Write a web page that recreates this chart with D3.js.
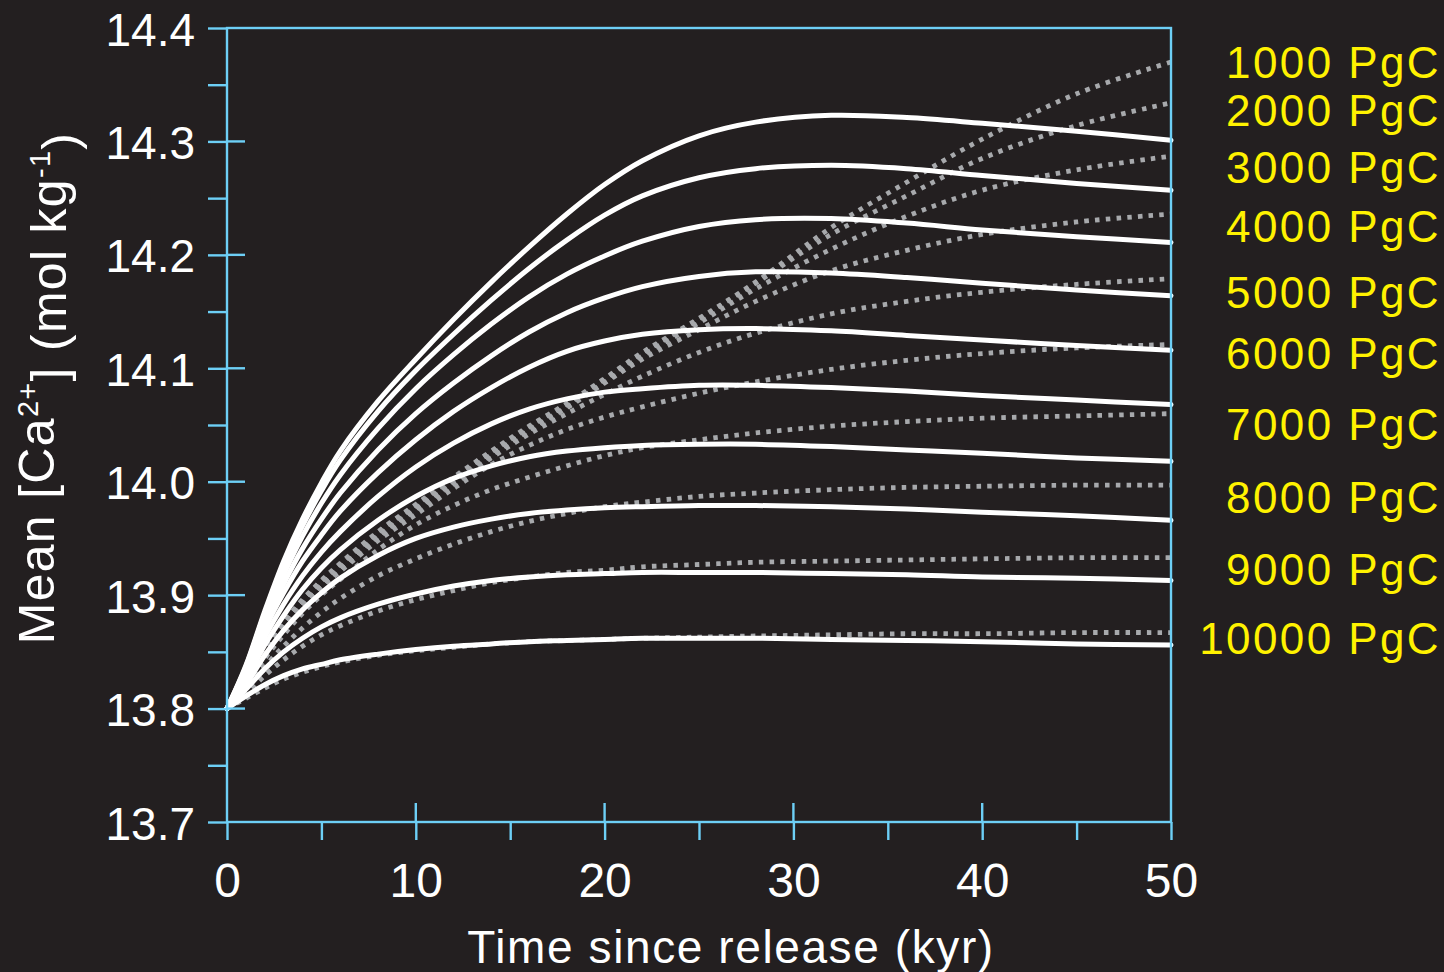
<!DOCTYPE html>
<html>
<head>
<meta charset="utf-8">
<script src="https://cdn.jsdelivr.net/npm/d3@7"></script>
<style>
  html, body { margin: 0; padding: 0; background: #231f20; }
  svg { display: block; }
  text { font-family: "Liberation Sans", Arial, sans-serif; }
</style>
</head>
<body>
<svg id="chart" width="1444" height="972"></svg>
<script>
// Sample times (kyr since release)
const times = [0, 1, 2, 3, 4, 5, 6, 8, 10, 12, 14, 16, 18, 20, 22, 25, 28, 32, 36, 40, 45, 50];

// Solid curves: mean [Ca2+] (mol/kg), one per release
const solid1000  = [13.800, 13.838, 13.886, 13.930, 13.967, 13.999, 14.027, 14.071, 14.108, 14.143, 14.176, 14.207, 14.236, 14.262, 14.283, 14.305, 14.317, 14.323, 14.321, 14.316, 14.309, 14.301];
const solid2000  = [13.800, 13.837, 13.884, 13.925, 13.961, 13.992, 14.019, 14.062, 14.098, 14.130, 14.160, 14.188, 14.213, 14.235, 14.252, 14.268, 14.276, 14.279, 14.276, 14.270, 14.263, 14.257];
const solid3000  = [13.800, 13.836, 13.880, 13.918, 13.952, 13.981, 14.006, 14.047, 14.082, 14.112, 14.139, 14.163, 14.183, 14.199, 14.212, 14.225, 14.231, 14.232, 14.228, 14.222, 14.216, 14.211];
const solid4000  = [13.800, 13.834, 13.875, 13.910, 13.941, 13.967, 13.990, 14.028, 14.060, 14.087, 14.111, 14.132, 14.149, 14.162, 14.172, 14.181, 14.185, 14.184, 14.180, 14.175, 14.169, 14.164];
const solid5000  = [13.800, 13.832, 13.870, 13.902, 13.930, 13.953, 13.974, 14.008, 14.037, 14.062, 14.083, 14.101, 14.115, 14.124, 14.130, 14.134, 14.135, 14.133, 14.129, 14.125, 14.120, 14.116];
const solid6000  = [13.800, 13.829, 13.863, 13.892, 13.917, 13.938, 13.956, 13.987, 14.013, 14.034, 14.051, 14.064, 14.073, 14.079, 14.082, 14.085, 14.085, 14.083, 14.080, 14.076, 14.072, 14.068];
const solid7000  = [13.800, 13.825, 13.856, 13.882, 13.905, 13.924, 13.940, 13.966, 13.987, 14.003, 14.014, 14.022, 14.027, 14.030, 14.032, 14.033, 14.033, 14.031, 14.028, 14.025, 14.021, 14.018];
const solid8000  = [13.800, 13.821, 13.847, 13.869, 13.887, 13.902, 13.915, 13.935, 13.950, 13.960, 13.967, 13.972, 13.975, 13.977, 13.978, 13.979, 13.979, 13.978, 13.976, 13.973, 13.970, 13.966];
const solid9000  = [13.800, 13.817, 13.835, 13.850, 13.862, 13.872, 13.880, 13.892, 13.901, 13.908, 13.913, 13.916, 13.918, 13.919, 13.920, 13.920, 13.920, 13.919, 13.918, 13.916, 13.915, 13.913];
const solid10000 = [13.800, 13.811, 13.821, 13.829, 13.835, 13.839, 13.843, 13.848, 13.852, 13.855, 13.857, 13.859, 13.860, 13.861, 13.862, 13.862, 13.862, 13.861, 13.860, 13.859, 13.857, 13.856];

// Dotted curves: companion runs, one per release
const dotted1000  = [13.800, 13.823, 13.853, 13.876, 13.896, 13.913, 13.928, 13.956, 13.980, 14.004, 14.027, 14.049, 14.069, 14.091, 14.114, 14.144, 14.176, 14.224, 14.264, 14.302, 14.342, 14.370];
const dotted2000  = [13.800, 13.822, 13.852, 13.875, 13.895, 13.912, 13.927, 13.955, 13.979, 14.003, 14.026, 14.048, 14.068, 14.090, 14.113, 14.143, 14.175, 14.218, 14.252, 14.285, 14.314, 14.334];
const dotted3000  = [13.800, 13.821, 13.850, 13.873, 13.893, 13.910, 13.925, 13.953, 13.977, 14.001, 14.024, 14.046, 14.066, 14.088, 14.111, 14.140, 14.170, 14.205, 14.234, 14.257, 14.275, 14.287];
const dotted4000  = [13.800, 13.820, 13.849, 13.872, 13.892, 13.909, 13.924, 13.952, 13.976, 14.000, 14.023, 14.045, 14.065, 14.087, 14.108, 14.134, 14.159, 14.186, 14.204, 14.218, 14.229, 14.236];
const dotted5000  = [13.800, 13.820, 13.848, 13.871, 13.891, 13.908, 13.923, 13.951, 13.975, 13.998, 14.021, 14.042, 14.060, 14.077, 14.093, 14.114, 14.131, 14.148, 14.159, 14.167, 14.174, 14.179];
const dotted6000  = [13.800, 13.819, 13.847, 13.870, 13.890, 13.907, 13.921, 13.948, 13.971, 13.994, 14.015, 14.032, 14.046, 14.057, 14.066, 14.078, 14.088, 14.099, 14.107, 14.113, 14.118, 14.121];
const dotted7000  = [13.800, 13.818, 13.844, 13.865, 13.884, 13.900, 13.914, 13.940, 13.962, 13.979, 13.993, 14.004, 14.014, 14.023, 14.030, 14.037, 14.043, 14.049, 14.053, 14.056, 14.058, 14.060];
const dotted8000  = [13.800, 13.816, 13.837, 13.855, 13.871, 13.885, 13.897, 13.917, 13.932, 13.945, 13.956, 13.965, 13.972, 13.978, 13.982, 13.987, 13.990, 13.993, 13.995, 13.996, 13.997, 13.997];
const dotted9000  = [13.800, 13.813, 13.829, 13.843, 13.855, 13.865, 13.873, 13.886, 13.896, 13.904, 13.911, 13.916, 13.920, 13.922, 13.925, 13.927, 13.929, 13.930, 13.931, 13.932, 13.933, 13.933];
const dotted10000 = [13.800, 13.809, 13.818, 13.826, 13.832, 13.837, 13.841, 13.847, 13.851, 13.854, 13.857, 13.859, 13.860, 13.861, 13.862, 13.863, 13.864, 13.865, 13.866, 13.866, 13.867, 13.867];

// Release labels and the [Ca2+] level each one sits at on the right margin
const releaseLabels = ["1000 PgC", "2000 PgC", "3000 PgC", "4000 PgC", "5000 PgC",
                       "6000 PgC", "7000 PgC", "8000 PgC", "9000 PgC", "10000 PgC"];
const labelLevels = [14.370, 14.328, 14.277, 14.225, 14.167, 14.113, 14.051, 13.986, 13.923, 13.862];

// Axis ticks
const yMajorTicks = [13.7, 13.8, 13.9, 14.0, 14.1, 14.2, 14.3, 14.4];
const yMinorTicks = [13.75, 13.85, 13.95, 14.05, 14.15, 14.25, 14.35];
const xMajorTicks = [0, 10, 20, 30, 40, 50];
const xMinorTicks = [5, 15, 25, 35, 45];

const solidSeries = [solid1000, solid2000, solid3000, solid4000, solid5000,
                     solid6000, solid7000, solid8000, solid9000, solid10000];
const dottedSeries = [dotted1000, dotted2000, dotted3000, dotted4000, dotted5000,
                      dotted6000, dotted7000, dotted8000, dotted9000, dotted10000];

const axisColor = "#6dcff6";
const bg = "#231f20";

const svg = d3.select("#chart");
svg.append("rect").attr("width", 1444).attr("height", 972).attr("fill", bg);

const plot = { left: 227, right: 1171, top: 28, bottom: 822 };
const x = d3.scaleLinear().domain([0, 50]).range([plot.left, plot.right]);
const y = d3.scaleLinear().domain([13.7, 14.4]).range([plot.bottom, plot.top]);

const line = d3.line()
  .x((d, i) => x(times[i]))
  .y(d => y(d))
  .curve(d3.curveCatmullRom.alpha(0.5));

// Dotted runs underneath
const dots = svg.append("g");
dottedSeries.forEach(s => {
  dots.append("path")
    .attr("d", line(s))
    .attr("fill", "none")
    .attr("stroke", "#a7a9ac")
    .attr("stroke-width", 4.8)
    .attr("stroke-dasharray", "4.5 6.2");
});

// Solid runs on top
const solids = svg.append("g");
solidSeries.forEach(s => {
  solids.append("path")
    .attr("d", line(s))
    .attr("fill", "none")
    .attr("stroke", "#ffffff")
    .attr("stroke-width", 5)
    .attr("stroke-linecap", "round");
});

// Frame
svg.append("rect")
  .attr("x", plot.left).attr("y", plot.top)
  .attr("width", plot.right - plot.left).attr("height", plot.bottom - plot.top)
  .attr("fill", "none").attr("stroke", axisColor).attr("stroke-width", 2.4);

function styleAxis(g, fontSize) {
  g.select(".domain").remove();
  g.selectAll(".tick line").attr("stroke", axisColor).attr("stroke-width", 2.4);
  g.selectAll(".tick text")
    .attr("fill", "#ffffff")
    .style("font-size", fontSize + "px")
    .style("font-family", "'Liberation Sans', Arial, sans-serif");
}

// Y axis: major ticks with labels, minor ticks outside only
const yAxisG = svg.append("g").attr("transform", `translate(${plot.left},0)`)
  .call(d3.axisLeft(y).tickValues(yMajorTicks).tickSize(19).tickPadding(13).tickFormat(d3.format(".1f")));
styleAxis(yAxisG, 46);
yAxisG.selectAll(".tick text").attr("dy", "0.37em");
const yMinorG = svg.append("g").attr("transform", `translate(${plot.left},0)`)
  .call(d3.axisLeft(y).tickValues(yMinorTicks).tickSize(19).tickFormat(""));
styleAxis(yMinorG, 46);
svg.append("g").selectAll("line")
  .data(yMajorTicks.slice(1, -1)).join("line")
  .attr("x1", plot.left).attr("x2", plot.left + 18)
  .attr("y1", d => y(d)).attr("y2", d => y(d))
  .attr("stroke", axisColor).attr("stroke-width", 2.4);

// X axis
const xAxisG = svg.append("g").attr("transform", `translate(0,${plot.bottom})`)
  .call(d3.axisBottom(x).tickValues(xMajorTicks).tickSize(18).tickPadding(23).tickFormat(d3.format("d")));
styleAxis(xAxisG, 48);
const xMinorG = svg.append("g").attr("transform", `translate(0,${plot.bottom})`)
  .call(d3.axisBottom(x).tickValues(xMinorTicks).tickSize(18).tickFormat(""));
styleAxis(xMinorG, 48);
svg.append("g").selectAll("line")
  .data(xMajorTicks.slice(1, -1)).join("line")
  .attr("x1", d => x(d)).attr("x2", d => x(d))
  .attr("y1", plot.bottom - 19).attr("y2", plot.bottom)
  .attr("stroke", axisColor).attr("stroke-width", 2.4);

// Release labels
svg.append("g").selectAll("text")
  .data(releaseLabels).join("text")
  .attr("x", 1441)
  .attr("y", (d, i) => y(labelLevels[i]))
  .attr("dy", "0.36em")
  .attr("text-anchor", "end")
  .attr("fill", "#fff200")
  .style("font-size", "44px")
  .style("letter-spacing", "2.4px")
  .text(d => d);

// Axis titles
svg.append("text")
  .attr("x", 731).attr("y", 963)
  .attr("text-anchor", "middle")
  .attr("fill", "#ffffff")
  .style("font-size", "46px")
  .style("letter-spacing", "1.6px")
  .text("Time since release (kyr)");

const yTitle = svg.append("text")
  .attr("transform", "translate(54,388) rotate(-90)")
  .attr("text-anchor", "middle")
  .attr("fill", "#ffffff")
  .style("font-size", "50px")
  .style("letter-spacing", "1.3px");
yTitle.append("tspan").text("Mean [Ca");
yTitle.append("tspan").attr("dy", "-0.55em").style("font-size", "29px").text("2+");
yTitle.append("tspan").attr("dy", "0.55em").text("] (mol kg");
yTitle.append("tspan").attr("dy", "-0.55em").style("font-size", "29px").text("-1");
yTitle.append("tspan").attr("dy", "0.55em").text(")");
</script>
</body>
</html>
